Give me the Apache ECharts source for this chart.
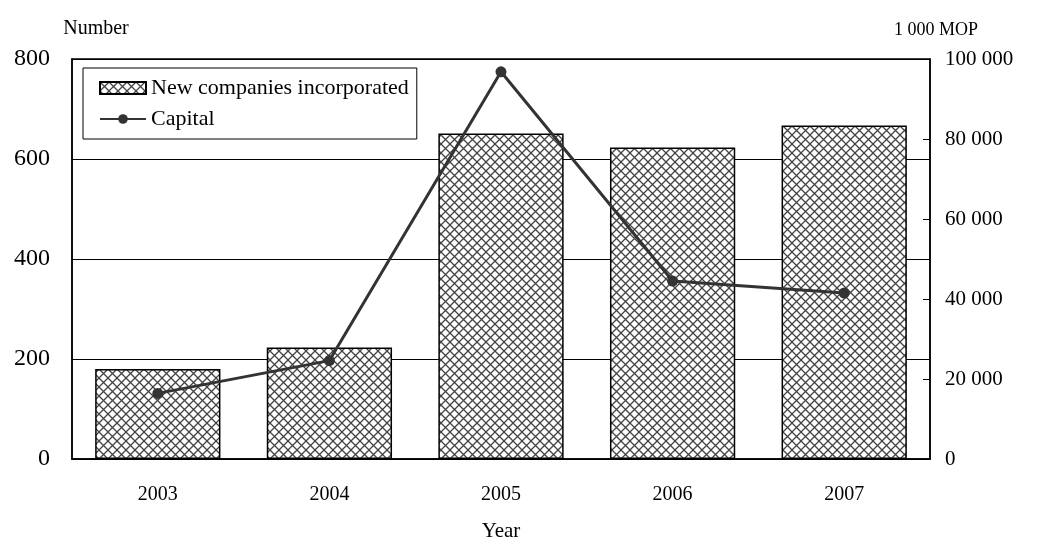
<!DOCTYPE html>
<html>
<head>
<meta charset="utf-8">
<script src="https://cdn.jsdelivr.net/npm/echarts@6/dist/echarts.min.js"></script>
<style>
  html, body { margin: 0; padding: 0; background: #fff; }
  #chart { width: 1040px; height: 540px; }
</style>
</head>
<body>
<div id="chart"></div>
<script>
const years = ['2003', '2004', '2005', '2006', '2007']
const companies = [180, 223, 651, 623, 667]
const capital = [16400, 24600, 96800, 44500, 41500]

const FONT = 'Liberation Serif'

// cross-hatch fill for the bars
function hatch() {
  const c = document.createElement('canvas')
  c.width = 9; c.height = 9
  const g = c.getContext('2d')
  g.fillStyle = '#fff'
  g.fillRect(0, 0, 9, 9)
  g.strokeStyle = '#444'
  g.lineWidth = 1.3
  g.beginPath()
  g.moveTo(0, 0); g.lineTo(9, 9)
  g.moveTo(9, 0); g.lineTo(0, 9)
  g.stroke()
  return c
}

function fmt(v) { return String(v).replace(/\B(?=(\d{3})+(?!\d))/g, ' ') }

const chart = echarts.init(document.getElementById('chart'))
chart.setOption({
  animation: false,
  textStyle: { fontFamily: FONT, color: '#000' },
  grid: {
    left: 72, right: 110, top: 59, bottom: 81, outerBoundsMode: 'none',
    show: true, borderColor: '#000', borderWidth: 1.5
  },
  legend: {
    orient: 'vertical', left: 83, top: 68,
    borderColor: '#000', borderWidth: 1, borderRadius: 0,
    padding: [9, 8, 9, 16], itemGap: 9, itemWidth: 46, itemHeight: 12,
    textStyle: { fontFamily: FONT, fontSize: 22, color: '#000' },
    data: [
      { name: 'New companies incorporated', icon: 'rect' },
      { name: 'Capital' }
    ]
  },
  xAxis: {
    type: 'category', data: years,
    name: 'Year', nameLocation: 'middle', nameGap: 62,
    nameTextStyle: { fontFamily: FONT, fontSize: 21, color: '#000' },
    axisLine: { lineStyle: { color: '#000', width: 1.5 } },
    axisTick: { inside: true, length: 6, lineStyle: { color: '#555' } },
    axisLabel: { fontFamily: FONT, fontSize: 20, color: '#000', margin: 26 }
  },
  yAxis: [
    {
      type: 'value', min: 0, max: 800, interval: 200,
      name: 'Number', nameLocation: 'end', nameGap: 20,
      nameTextStyle: { fontFamily: FONT, fontSize: 20, color: '#000', align: 'center', padding: [0, 0, 0, 48] },
      axisLine: { show: true, lineStyle: { color: '#000', width: 1.5 } },
      axisTick: { show: false },
      splitLine: { lineStyle: { color: '#000', width: 1 } },
      axisLabel: { fontFamily: FONT, fontSize: 24, color: '#000', margin: 22 }
    },
    {
      type: 'value', min: 0, max: 100000, interval: 20000, position: 'right',
      name: '1 000 MOP', nameLocation: 'end', nameGap: 20,
      nameTextStyle: { fontFamily: FONT, fontSize: 18, color: '#000', align: 'center', padding: [0, 0, 0, 12] },
      axisLine: { show: true, lineStyle: { color: '#000', width: 1.5 } },
      axisTick: { show: true, inside: true, length: 7, lineStyle: { color: '#000' } },
      splitLine: { show: false },
      axisLabel: { fontFamily: FONT, fontSize: 21, color: '#000', margin: 15, formatter: fmt }
    }
  ],
  series: [
    {
      name: 'New companies incorporated', type: 'bar', data: companies,
      barCategoryGap: '27%',
      itemStyle: { color: { image: hatch(), repeat: 'repeat' }, borderColor: '#000', borderWidth: 1.5 }
    },
    {
      name: 'Capital', type: 'line', yAxisIndex: 1, data: capital,
      symbol: 'circle', symbolSize: 11,
      itemStyle: { color: '#333' },
      lineStyle: { color: '#333', width: 3 }
    }
  ]
})
</script>
</body>
</html>
